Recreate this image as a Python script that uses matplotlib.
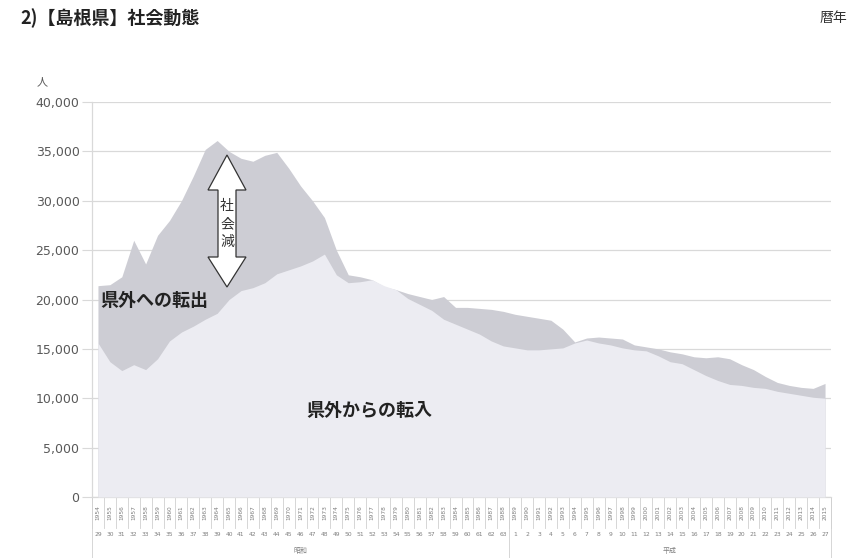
import matplotlib
matplotlib.use("Agg")
import matplotlib.pyplot as plt
from matplotlib.patches import Polygon

plt.rcParams['font.family'] = ['Noto Sans CJK JP', 'DejaVu Sans']

# ---------------- data ----------------
years = list(range(1954, 2016))
era_year_labels = [str(v) for v in range(29, 64)] + [str(v) for v in range(1, 28)]
era_names = ["昭和", "平成"]
era_counts = [35, 27]

out_migration = [21400, 21500, 22300, 26000, 23600, 26500, 28000, 30000, 32500, 35200,
                 36100, 35000, 34300, 34000, 34600, 34900, 33300, 31500, 30000, 28300,
                 25000, 22500, 22300, 22000, 21300, 21000, 20600, 20300, 20000, 20300,
                 19200, 19200, 19100, 19000, 18800, 18500, 18300, 18100, 17900, 17000,
                 15700, 16100, 16200, 16100, 16000, 15400, 15200, 15000, 14700, 14500,
                 14200, 14100, 14200, 14000, 13400, 12900, 12200, 11600, 11300, 11100,
                 11000, 11500]
in_migration = [15600, 13700, 12800, 13400, 12900, 14000, 15800, 16700, 17300, 18000,
                18600, 20000, 20900, 21200, 21700, 22600, 23000, 23400, 23900, 24600,
                22500, 21700, 21800, 22000, 21400, 21000, 20100, 19500, 18900, 18000,
                17500, 17000, 16500, 15800, 15300, 15100, 14900, 14900, 15000, 15100,
                15600, 15900, 15600, 15400, 15100, 14900, 14800, 14300, 13700, 13500,
                12900, 12300, 11800, 11400, 11300, 11100, 11000, 10700, 10500, 10300,
                10100, 10000]

# ---------------- figure ----------------
W, H = 850, 558
fig = plt.figure(figsize=(W / 100, H / 100), dpi=100)
ax_l, ax_r, ax_t, ax_b = 92, 831, 102, 497
ax = fig.add_axes([ax_l / W, 1 - ax_b / H, (ax_r - ax_l) / W, (ax_b - ax_t) / H])

x = list(range(len(years)))
dark = "#cdcdd4"
light = "#ececf2"
ax.fill_between(x, 0, out_migration, color=dark, lw=0, zorder=2)
ax.fill_between(x, 0, in_migration, color=light, lw=0, zorder=3)

ax.set_xlim(-0.5, len(years) - 0.5)
ax.set_ylim(0, 40000)
ax.set_yticks(range(0, 40001, 5000))
ax.set_yticklabels([f"{v:,}" for v in range(0, 40001, 5000)])
ax.set_axisbelow(True)
ax.yaxis.grid(True, color="#d9d9d9", lw=0.9)
ax.tick_params(axis="y", length=7, color="#d9d9d9", labelcolor="#595959",
               labelsize=9, pad=2)
for lab in ax.get_yticklabels():
    lab.set_family(["DejaVu Sans"])
ax.set_xticks([])
for s in ["top", "right"]:
    ax.spines[s].set_visible(False)
for s in ["left", "bottom"]:
    ax.spines[s].set_color("#d9d9d9")
    ax.spines[s].set_linewidth(0.9)

# helpers converting reference pixel positions to axes / data coordinates
def ya(py):
    return (ax_b - py) / (ax_b - ax_t)

def dx(px):
    return (px - ax_l) / (ax_r - ax_l) * len(years) - 0.5

def dy(py):
    return (ax_b - py) / (ax_b - ax_t) * 40000

tr = ax.get_xaxis_transform()

# category label table
for i in range(len(years) + 1):
    ax.plot([i - 0.5, i - 0.5], [ya(498), ya(528)], color="#d0d0d0", lw=0.6,
            transform=tr, clip_on=False)
for i, (yr, ey) in enumerate(zip(years, era_year_labels)):
    ax.text(i, ya(513), str(yr), rotation=90, fontsize=4.2, color="#7f7f7f",
            ha="center", va="center", transform=tr, family=["DejaVu Sans"])
    ax.text(i, ya(534), ey, fontsize=4.3, color="#7f7f7f",
            ha="center", va="center", transform=tr, family=["DejaVu Sans"])
start = 0
bounds = [-0.5]
for name, n in zip(era_names, era_counts):
    ax.text(start + (n - 1) / 2, ya(551), name, fontsize=5, color="#7f7f7f",
            ha="center", va="center", transform=tr)
    start += n
    bounds.append(start - 0.5)
for b in bounds:
    ax.plot([b, b], [ya(498), ya(560)], color="#d0d0d0", lw=0.6,
            transform=tr, clip_on=False)

# annotations
ax.text(dx(100), dy(300), "県外への転出", fontsize=13, fontweight="bold",
        color="#222222", ha="left", va="center", zorder=5)
ax.text(dx(369), dy(410), "県外からの転入", fontsize=13, fontweight="bold",
        color="#222222", ha="center", va="center", zorder=5)

cx = 227
hw_head, hw_shaft = 19, 9
top_tip, head1, head2, bot_tip = 155, 190, 257, 287
pts = [(cx, top_tip), (cx + hw_head, head1), (cx + hw_shaft, head1),
       (cx + hw_shaft, head2), (cx + hw_head, head2), (cx, bot_tip),
       (cx - hw_head, head2), (cx - hw_shaft, head2), (cx - hw_shaft, head1),
       (cx - hw_head, head1)]
arrow = Polygon([(dx(px), dy(py)) for px, py in pts], closed=True,
                facecolor="white", edgecolor="#333333", lw=0.9, zorder=6)
ax.add_patch(arrow)
ax.text(dx(cx), dy(224), "社\n会\n減", fontsize=10, color="#333333",
        ha="center", va="center", linespacing=1.4, zorder=7)

# texts outside the plot
ax.text(dx(42), dy(82), "人", fontsize=8, color="#595959", ha="center",
        va="center", clip_on=False)
fig.text(20 / W, 1 - 18 / H, "2)【島根県】社会動態", fontsize=13,
         fontweight="bold", color="#222222", ha="left", va="center")
fig.text(820 / W, 1 - 18 / H, "暦年", fontsize=10, color="#333333",
         ha="left", va="center")

fig.savefig("out.png", dpi=100)
